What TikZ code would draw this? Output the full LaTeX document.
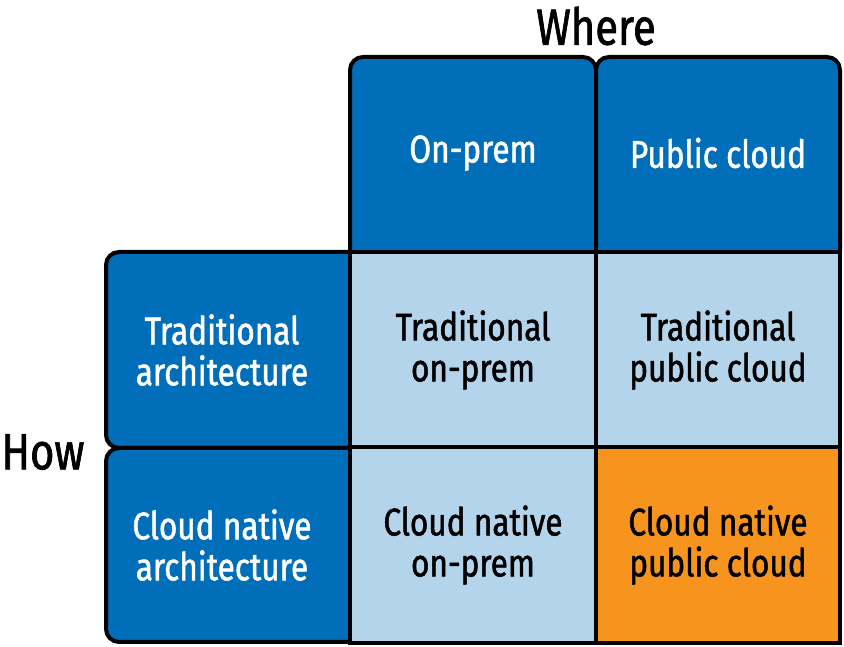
\documentclass[tikz,border=0pt]{standalone}
\usepackage{fontspec}
\setmainfont{Fira Sans}[FakeStretch=0.82, FakeBold=1.3]
\definecolor{darkblue}{RGB}{0,110,185}
\definecolor{paleblue}{RGB}{179,212,234}
\definecolor{hotorange}{RGB}{247,148,30}

\begin{document}
\begin{tikzpicture}[
  x=1pt, y=1pt,
  every node/.style={font=\fontsize{38.5}{41}\selectfont, align=center, inner sep=0pt},
  head/.style={draw, line width=4pt, fill=darkblue, rounded corners=13pt},
  headtext/.style={text=white},
  cell/.style={draw, line width=4pt, fill=paleblue, minimum width=246pt, minimum height=196pt},
  hotcell/.style={cell, fill=hotorange},
  axis/.style={font=\fontsize{51}{54}\selectfont}
]
\useasboundingbox (0,0) rectangle (844,647);

% header shapes (open paths, inner sides come from the cells)
\filldraw[head] (350,395) -- (350,590) -- (596,590) -- (596,395);
\filldraw[head] (596,395) -- (596,590) -- (840,590) -- (840,395);
\filldraw[head] (350,395) -- (106,395) -- (106,199) -- (350,199);
\filldraw[head] (350,199) -- (106,199) -- (106,5) -- (350,5);

% body cells
\node[cell] (tradonprem) at (473,297) {Traditional\\on-prem};
\node[cell, minimum width=244pt] (tradcloud) at (718,297) {Traditional\\public cloud};
\node[cell] (nativeonprem) at (473,102) {Cloud native\\on-prem};
\node[hotcell, minimum width=244pt] (nativecloud) at (718,102) {Cloud native\\public cloud};

% header texts
\node[headtext] (onprem) at (473,494) {On-prem};
\node[headtext] (pubcloud) at (718,494) {Public cloud};
\node[headtext] (tradarch) at (222,297) {Traditional\\architecture};
\node[headtext] (nativearch) at (222,102) {Cloud native\\architecture};

% axis labels
\node[axis] (where) at (596,621) {Where};
\node[axis] (how) at (43,195) {How};
\end{tikzpicture}
\end{document}
